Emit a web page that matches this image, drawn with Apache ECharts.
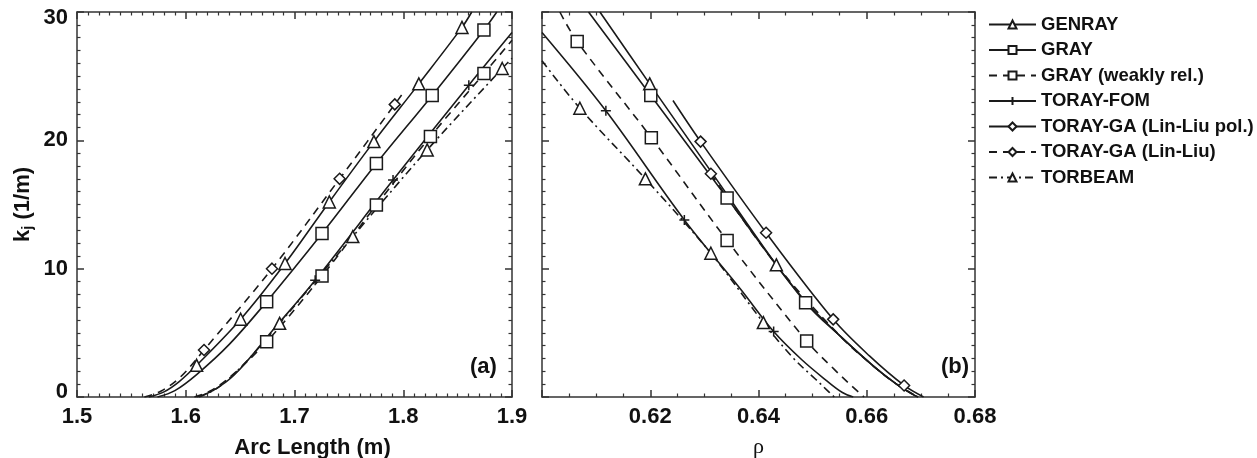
<!DOCTYPE html>
<html>
<head>
<meta charset="utf-8">
<script src="https://cdn.jsdelivr.net/npm/echarts@6/dist/echarts.min.js"></script>
<style>
html,body{margin:0;padding:0;background:#fff;}
#chart{width:1257px;height:458px;}
</style>
</head>
<body>
<div id="chart"></div>
<script>
// ---------- DATA ----------
const seriesNames = ['GENRAY','GRAY','GRAY (weakly rel.)','TORAY-FOM','TORAY-GA (Lin-Liu pol.)','TORAY-GA (Lin-Liu)','TORBEAM'];
const xTicksA = [1.5, 1.9, 0.1];
const xTicksB = [0.60, 0.68, 0.02];
const yTicks = [0, 30, 10];

// Panel (a): k_i vs arc length. curve = line-only points, marks = marker points
const genrayA_curve = [[1.566,0],[1.580,0.4],[1.594,1.2],[1.863,30]];
const genrayA_marks = [[1.610,2.47],[1.6505,6.06],[1.6913,10.4],[1.732,15.2],[1.773,19.9],[1.8143,24.4],[1.854,28.8]];
const grayA_curve = [[1.574,0],[1.590,0.5],[1.610,1.75],[1.640,4.1],[1.886,30]];
const grayA_marks = [[1.6744,7.43],[1.7253,12.74],[1.7753,18.2],[1.8266,23.5],[1.8742,28.6]];
const weakA_curve = [[1.608,0],[1.622,0.45],[1.640,1.5],[1.9,27.8]];
const weakA_marks = [[1.6744,4.31],[1.7253,9.43],[1.7753,14.96],[1.825,20.3],[1.8742,25.2]];
const fomA_curve = [[1.610,0],[1.625,0.5],[1.645,1.75],[1.680,5.2],[1.9,28.4]];
const fomA_marks = [[1.719,9.1],[1.7906,16.9],[1.8603,24.3]];
const linliuA_curve = [[1.562,0],[1.577,0.45],[1.595,1.55],[1.800,23.7]];
const linliuA_marks = [[1.6168,3.66],[1.6793,10.0],[1.7415,17.0],[1.7922,22.8]];
const torbeamA_curve = [[1.612,0],[1.630,0.75],[1.655,2.7],[1.9,26.4]];
const torbeamA_marks = [[1.6863,5.74],[1.7536,12.5],[1.822,19.25],[1.891,25.6]];

// Panel (b): k_i vs rho
const genrayB_curve = [[0.6107,30],[0.6316,17.35],[0.649,7.3],[0.6552,4.7],[0.6614,2.35],[0.6655,1.0],[0.6685,0.2],[0.6695,0]];
const genrayB_marks = [[0.6199,24.4],[0.6433,10.3]];
const grayB_curve = [[0.6086,30],[0.6552,4.7],[0.6614,2.35],[0.6655,1.0],[0.6685,0.2],[0.6695,0]];
const grayB_marks = [[0.6201,23.5],[0.6342,15.5],[0.6487,7.35]];
const weakB_curve = [[0.6033,30],[0.654,2.15],[0.657,0.95],[0.6595,0]];
const weakB_marks = [[0.6065,27.7],[0.6202,20.2],[0.6342,12.2],[0.6489,4.36]];
const fomB_curve = [[0.600,28.4],[0.6367,8.4],[0.648,2.9],[0.6525,1.3],[0.6555,0.35],[0.6575,0]];
const fomB_marks = [[0.6118,22.3],[0.6263,13.8],[0.6428,5.1]];
const linpolB_curve = [[0.6242,23.1],[0.6605,3.2],[0.6705,0]];
const linpolB_marks = [[0.6293,19.9],[0.6414,12.8],[0.6538,6.05],[0.6669,0.9]];
const linliuB_curve = [[0.6433,10.3],[0.6552,4.7],[0.6614,2.35],[0.6655,1.0],[0.6695,0]];
const linliuB_marks = [[0.6312,17.4]];
const torbeamB_curve = [[0.600,26.2],[0.6465,3.0],[0.6505,1.4],[0.6525,0.6],[0.654,0]];
const torbeamB_marks = [[0.607,22.5],[0.6191,17.0],[0.6312,11.2],[0.6409,5.8]];

// ---------- STYLE ----------
const INK = '#1a1a1a';
const FONT = "'Liberation Sans', Arial, Helvetica, sans-serif";
const PLUS = 'path://M5,0L5,10M0,5L10,5';
const styles = {
  'GENRAY': {symbol:'triangle', size:12, dash:'solid'},
  'GRAY': {symbol:'rect', size:12, dash:'solid'},
  'GRAY (weakly rel.)': {symbol:'rect', size:12, dash:[8,6]},
  'TORAY-FOM': {symbol:PLUS, size:10, dash:'solid'},
  'TORAY-GA (Lin-Liu pol.)': {symbol:'diamond', size:11, dash:'solid'},
  'TORAY-GA (Lin-Liu)': {symbol:'diamond', size:11, dash:[8,6]},
  'TORBEAM': {symbol:'triangle', size:12, dash:[8,4,2,4]}
};

function mk(name, panel, curve, marks) {
  const st = styles[name];
  const pts = curve.map(p => ({value: p, symbol: 'none'}))
    .concat(marks.map(p => ({value: p})));
  pts.sort((a, b) => a.value[0] - b.value[0]);
  return {
    type: 'line', name: name,
    xAxisIndex: panel === 0 ? 0 : 2, yAxisIndex: panel === 0 ? 0 : 2,
    data: pts, smooth: 0.35,
    symbol: st.symbol, symbolSize: st.size, showSymbol: true,
    lineStyle: {color: INK, width: 1.6, type: st.dash},
    itemStyle: {color: '#fff', borderColor: INK, borderWidth: 1.5},
    emphasis: {disabled: true},
    clip: true
  };
}

const labelRich = {
  top: {fontFamily: FONT, fontWeight: 'bold', fontSize: 22, color: '#111', padding: [12, 0, 0, 0]},
  bot: {fontFamily: FONT, fontWeight: 'bold', fontSize: 22, color: '#111', padding: [0, 0, 10, 0]},
  mid: {fontFamily: FONT, fontWeight: 'bold', fontSize: 22, color: '#111'}
};

function xAxisDef(grid, pos, r, minorSplit, showLabel, name, nameStyle, fmt, gap) {
  return {
    type: 'value', gridIndex: grid, position: pos,
    min: r[0], max: r[1], interval: r[2],
    name: name || '', nameLocation: 'middle', nameGap: gap || 40,
    nameTextStyle: nameStyle || {},
    axisLine: {show: true, onZero: false, lineStyle: {color: '#333', width: 1.5}},
    axisTick: {show: true, inside: true, length: 7, lineStyle: {color: '#333', width: 1.5}},
    minorTick: {show: true, splitNumber: minorSplit, length: 3.5, lineStyle: {color: '#333', width: 1.2}},
    splitLine: {show: false},
    axisLabel: {show: showLabel, margin: 9, fontFamily: FONT, fontWeight: 'bold', fontSize: 22, color: '#111', formatter: fmt, hideOverlap: false}
  };
}
function yAxisDef(grid, pos, showLabel, name, nameStyle) {
  return {
    type: 'value', gridIndex: grid, position: pos,
    min: yTicks[0], max: yTicks[1], interval: yTicks[2],
    name: name || '', nameLocation: 'middle', nameGap: 42,
    nameTextStyle: nameStyle || {},
    axisLine: {show: true, onZero: false, lineStyle: {color: '#333', width: 1.5}},
    axisTick: {show: true, inside: true, length: 7, lineStyle: {color: '#333', width: 1.5}},
    minorTick: {show: true, splitNumber: 10, length: 3.5, lineStyle: {color: '#333', width: 1.2}},
    splitLine: {show: false},
    axisLabel: {
      show: showLabel, margin: 9,
      formatter: v => v === yTicks[1] ? '{top|' + v + '}' : (v === yTicks[0] ? '{bot|' + v + '}' : '{mid|' + v + '}'),
      rich: labelRich
    }
  };
}

const fmtA = v => v.toFixed(1);
const fmtB = v => (v < 0.605 ? '' : v.toFixed(2));

const option = {
  animation: false,
  backgroundColor: '#fff',
  grid: [
    {left: 77, top: 12, width: 435, height: 385, containLabel: false, outerBoundsMode: 'none'},
    {left: 542, top: 12, width: 433, height: 385, containLabel: false, outerBoundsMode: 'none'}
  ],
  xAxis: [
    xAxisDef(0, 'bottom', xTicksA, 10, true, 'Arc Length (m)', {fontFamily: FONT, fontWeight: 'bold', fontSize: 22, color: '#111', padding: [0, 0, 0, 36]}, fmtA, 40),
    xAxisDef(0, 'top', xTicksA, 10, false),
    xAxisDef(1, 'bottom', xTicksB, 4, true, 'ρ', {fontFamily: "'Liberation Serif', 'DejaVu Serif', serif", fontSize: 22, color: '#111'}, fmtB, 39),
    xAxisDef(1, 'top', xTicksB, 4, false)
  ],
  yAxis: [
    yAxisDef(0, 'left', true, '{k|k}{j|j}{n| (1/m)}', {
      rich: {
        k: {fontFamily: FONT, fontWeight: 'bold', fontSize: 22, color: '#111'},
        j: {fontFamily: FONT, fontWeight: 'bold', fontSize: 15, color: '#111', padding: [10, 0, 0, 0]},
        n: {fontFamily: FONT, fontWeight: 'bold', fontSize: 22, color: '#111'}
      }
    }),
    yAxisDef(0, 'right', false),
    yAxisDef(1, 'left', false),
    yAxisDef(1, 'right', false)
  ],
  legend: {
    show: true, orient: 'vertical', left: 983, top: 10,
    itemWidth: 47, itemHeight: 10, itemGap: 6.5,
    data: seriesNames,
    textStyle: {fontFamily: FONT, fontWeight: 'bold', fontSize: 18.5, color: '#111'},
    selectedMode: false
  },
  graphic: [
    {type: 'text', left: 470, top: 356, style: {text: '(a)', font: "bold 22px 'Liberation Sans', Arial, sans-serif", fill: '#111'}},
    {type: 'text', left: 941, top: 356, style: {text: '(b)', font: "bold 22px 'Liberation Sans', Arial, sans-serif", fill: '#111'}}
  ],
  series: [
    mk('GENRAY', 0, genrayA_curve, genrayA_marks),
    mk('GRAY', 0, grayA_curve, grayA_marks),
    mk('GRAY (weakly rel.)', 0, weakA_curve, weakA_marks),
    mk('TORAY-FOM', 0, fomA_curve, fomA_marks),
    mk('TORAY-GA (Lin-Liu)', 0, linliuA_curve, linliuA_marks),
    mk('TORBEAM', 0, torbeamA_curve, torbeamA_marks),
    mk('GENRAY', 1, genrayB_curve, genrayB_marks),
    mk('GRAY', 1, grayB_curve, grayB_marks),
    mk('GRAY (weakly rel.)', 1, weakB_curve, weakB_marks),
    mk('TORAY-FOM', 1, fomB_curve, fomB_marks),
    mk('TORAY-GA (Lin-Liu pol.)', 1, linpolB_curve, linpolB_marks),
    mk('TORAY-GA (Lin-Liu)', 1, linliuB_curve, linliuB_marks),
    mk('TORBEAM', 1, torbeamB_curve, torbeamB_marks)
  ]
};

const chart = echarts.init(document.getElementById('chart'), null, {renderer: 'canvas'});
chart.setOption(option);
</script>
</body>
</html>
